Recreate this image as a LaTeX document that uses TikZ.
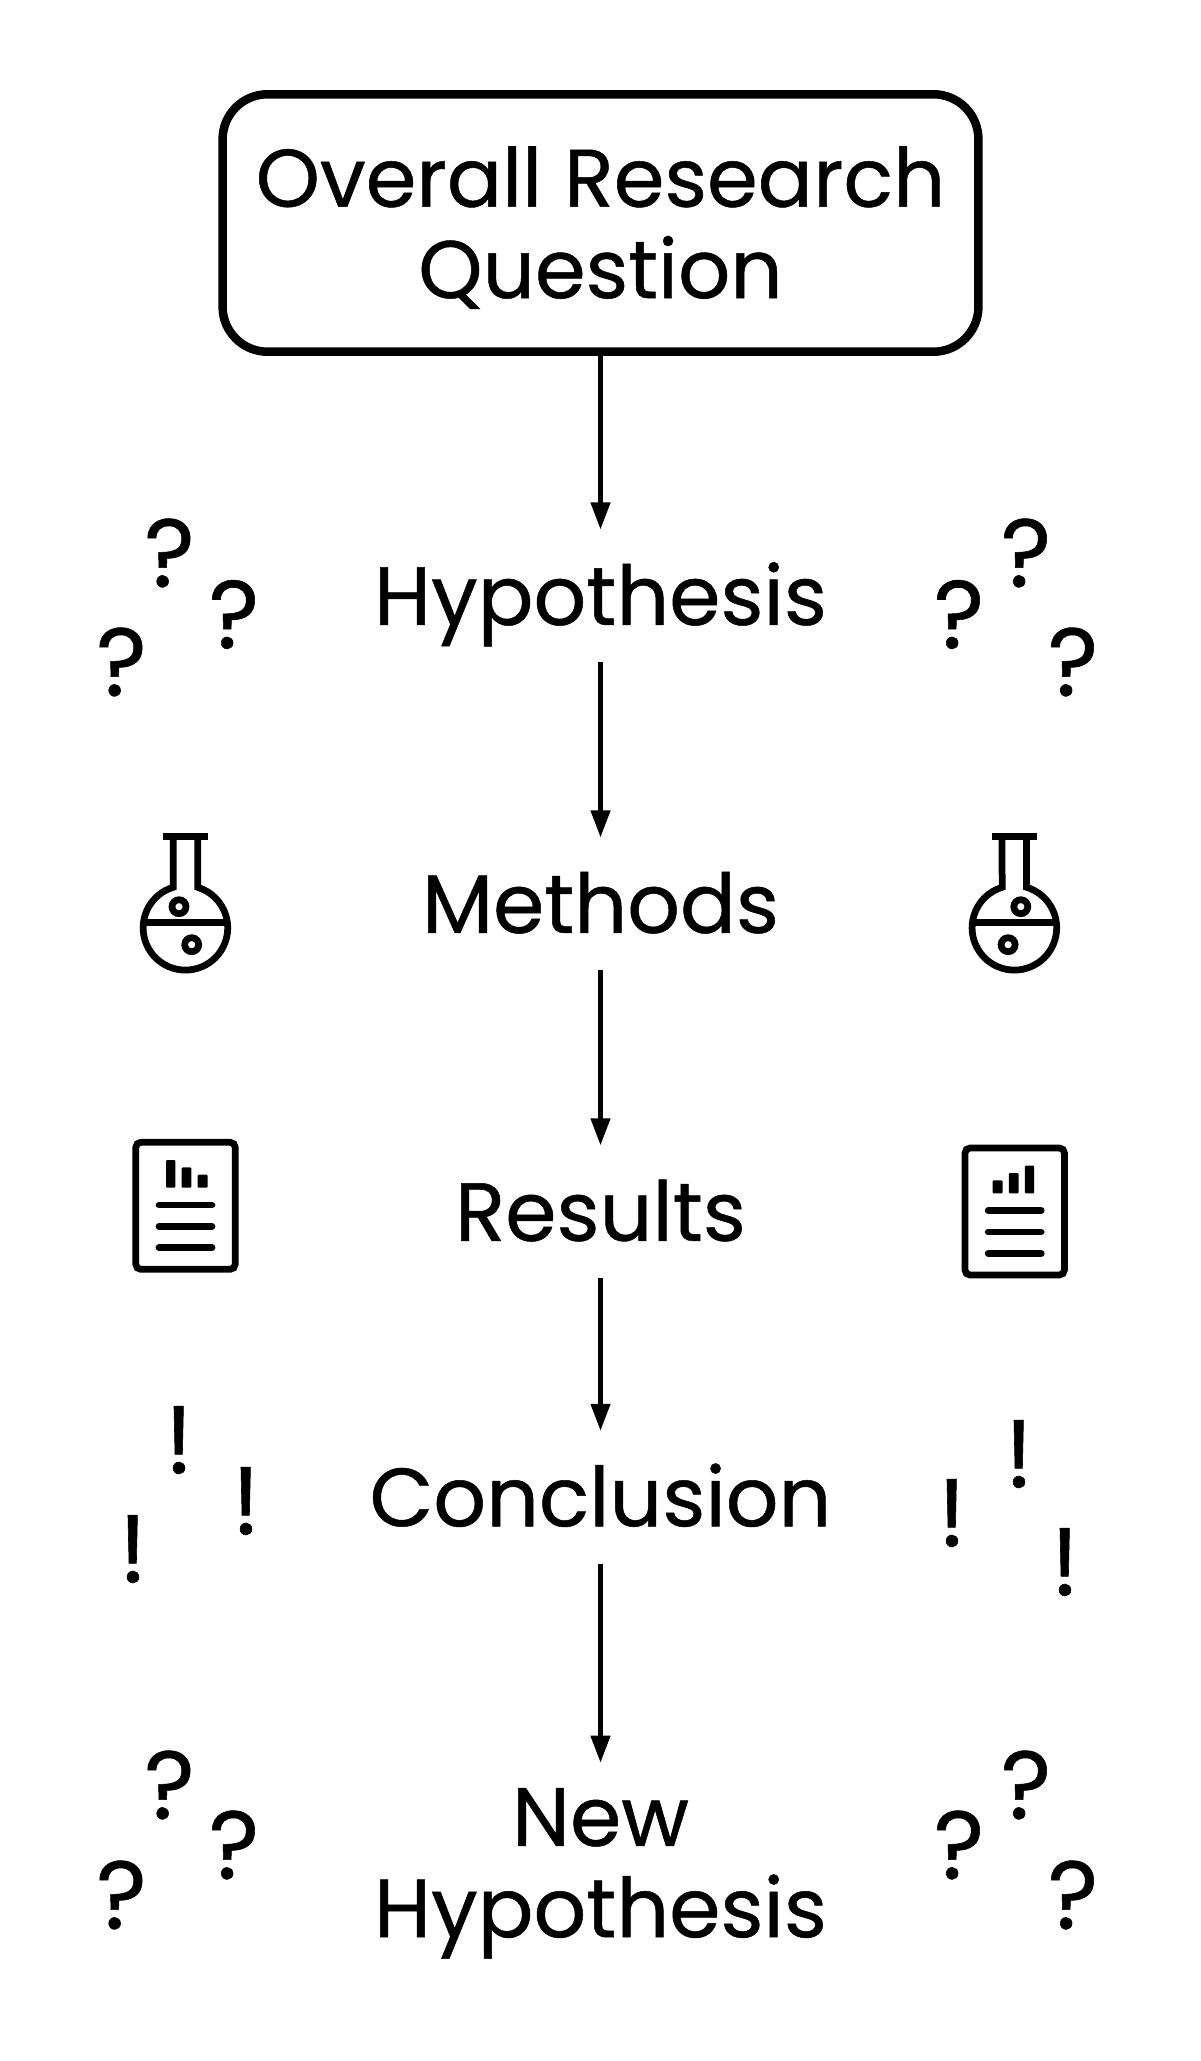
\documentclass[tikz,border=0pt]{standalone}
\usepackage{fontspec}
\setmainfont{Poppins}[FakeBold=.6]
\usetikzlibrary{arrows.meta,positioning}

\tikzset{
  outline/.style={line width=.135cm},
  pics/flask/.style={code={
    \begin{scope}[x=.02cm,y=.02cm,outline]
      \draw (-22.5,91.1) -- (22.5,91.1);
      \draw (-12.3,91.1) -- (-12.3,40.5) arc[start angle=106.8,end angle=433.2,radius=42.3] -- (12.3,91.1);
      \draw (-41.9,5.5) -- (41.9,5.5);
      \draw (-6.5,21.1) circle[radius=7];
      \draw (6.2,-16.9) circle[radius=7];
    \end{scope}}},
  pics/report/.style={code={
    \begin{scope}[x=.02cm,y=.02cm,outline]
      \draw[rounded corners=.1cm] (-49.7,-63.5) rectangle (49.7,63.5);
      \fill[rounded corners=.02cm] (-19.5,18.1) rectangle (-10.2,45.8);
      \fill[rounded corners=.02cm] (-3.8,18.1) rectangle (5.8,38.5);
      \fill[rounded corners=.02cm] (12.2,18.1) rectangle (22.2,31.1);
      \draw[line cap=round] (-26.5,.8) -- (26.5,.8);
      \draw[line cap=round] (-26.5,-20.5) -- (26.5,-20.5);
      \draw[line cap=round] (-26.5,-41.9) -- (26.5,-41.9);
    \end{scope}}},
  stage/.style={font=\fontsize{47}{52}\selectfont,align=center,inner sep=0pt},
  single/.style={stage,outer sep=0pt,minimum height=2.66cm,text height=33pt,text depth=0pt},
  sign/.style={font=\fontsize{55}{60}\selectfont,inner sep=0pt}
}

\begin{document}
\begin{tikzpicture}[x=.02cm,y=.02cm,->,>={Triangle[length=.54cm,width=.38cm]},line width=.09cm]
    \useasboundingbox (0,0) rectangle (1200,-2061);

    \node[stage,font=\fontsize{46.5}{52}\selectfont,draw,line width=.17cm,rounded corners=.9cm,minimum width=15.12cm,minimum height=5.15cm] (question) at (600.5,-223) {\rule{0pt}{39.6pt}Overall Research\\Question};
    \node[single] (hyp) [below=3.47cm of question] {Hypothesis};
    \node[single] (methods) [below=3.5cm of hyp] {Methods};
    \node[single] (results) [below=3.5cm of methods] {Results};
    \node[single] (concl) [below=3.05cm of results] {Conclusion};
    \node[stage,outer sep=0pt,inner ysep=.51cm] (newhyp) [below=3.98cm of concl] {New\\Hypothesis};

    \draw (question) -- (hyp);
    \draw (hyp) -- (methods);
    \draw (methods) -- (results);
    \draw (results) -- (concl);
    \draw (concl) -- (newhyp);

    % signs beside the stages
    \node[sign] (qa) at (169.5,-553) {?};
    \node[sign] (qb) at (234,-614.5) {?};
    \node[sign] (qc) at (121.5,-662) {?};
    \node[sign] (qd) at (1026,-553) {?};
    \node[sign] (qe) at (959,-614.5) {?};
    \node[sign] (qf) at (1073,-662) {?};

    \pic[-] at (185.5,-927.8) {flask};
    \pic[-,xscale=-1] at (1014.3,-927.8) {flask};
    \pic[-] at (185.5,-1205.8) {report};
    \pic[-,xscale=-1] at (1014.7,-1211.5) {report};

    \node[sign] (ea) at (179,-1440) {!};
    \node[sign] (eb) at (246,-1501) {!};
    \node[sign] (ec) at (133,-1549) {!};
    \node[sign] (ed) at (1019,-1454) {!};
    \node[sign] (ee) at (952,-1513) {!};
    \node[sign] (ef) at (1065,-1562) {!};

    \node[sign] (qg) at (169.5,-1785) {?};
    \node[sign] (qh) at (234,-1845) {?};
    \node[sign] (qi) at (121.5,-1895) {?};
    \node[sign] (qj) at (1026,-1785) {?};
    \node[sign] (qk) at (959,-1845) {?};
    \node[sign] (ql) at (1073,-1895) {?};
  \end{tikzpicture}
\end{document}
